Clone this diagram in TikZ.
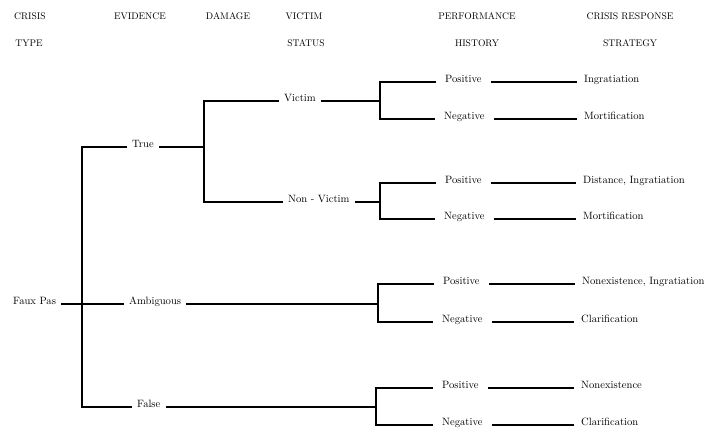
\documentclass[tikz,border=0pt]{standalone}
\begin{document}
\begin{tikzpicture}[x=1pt,y=-1pt,
 hdr/.style={font=\fontsize{9.6}{11}\selectfont, inner sep=0pt, anchor=base},
 lbl/.style={font=\fontsize{10.6}{12}\selectfont, inner ysep=0pt, inner xsep=5pt, anchor=base west, xshift=-5pt},
 perf/.style={font=\fontsize{10.6}{12}\selectfont, inner ysep=0pt, inner xsep=9pt, anchor=base west, xshift=-9pt},
 strat/.style={font=\fontsize{10.6}{12}\selectfont, inner ysep=0pt, inner xsep=7pt, anchor=base west, xshift=-7pt},
 ln/.style={line width=1.1pt}]
\useasboundingbox (0,0) rectangle (704,432);
% headers
\node[hdr] (h1a) at (30,19) {CRISIS};
\node[hdr] (h1b) at (29,46) {TYPE};
\node[hdr] (h2) at (140,19) {EVIDENCE};
\node[hdr] (h3) at (228,19) {DAMAGE};
\node[hdr] (h4a) at (304,19) {VICTIM};
\node[hdr] (h4b) at (306,46) {STATUS};
\node[hdr] (h5a) at (477,19) {PERFORMANCE};
\node[hdr] (h5b) at (477,46) {HISTORY};
\node[hdr] (h6a) at (630,19) {CRISIS RESPONSE};
\node[hdr] (h6b) at (630,46) {STRATEGY};
% tree labels
\node[lbl] (faux) at (13,304) {Faux Pas};
\node[lbl] (true) at (132,147) {True};
\node[lbl] (amb) at (129,304) {Ambiguous};
\node[lbl] (false) at (137,407) {False};
\node[lbl] (vic) at (284,101) {Victim};
\node[lbl] (nvic) at (288,202) {Non - Victim};
% performance history
\node[perf] (p1) at (445,82) {Positive};
\node[perf] (n1) at (444,119) {Negative};
\node[perf] (p2) at (445,183) {Positive};
\node[perf] (n2) at (444,219) {Negative};
\node[perf] (p3) at (443,284) {Positive};
\node[perf] (n3) at (442,322) {Negative};
\node[perf] (p4) at (442,388) {Positive};
\node[perf] (n4) at (442,425) {Negative};
% strategies
\node[strat] (s1) at (584,82) {Ingratiation};
\node[strat] (s2) at (584,119) {Mortification};
\node[strat] (s3) at (583,183) {Distance, Ingratiation};
\node[strat] (s4) at (583,219) {Mortification};
\node[strat] (s5) at (582,284) {Nonexistence, Ingratiation};
\node[strat] (s6) at (581,322) {Clarification};
\node[strat] (s7) at (581,388) {Nonexistence};
\node[strat] (s8) at (581,425) {Clarification};
% branch coordinates
\coordinate (st) at (82,147);
\coordinate (sb) at (82,407);
\coordinate (dt) at (204,101);
\coordinate (db) at (204,202);
\coordinate (g1t) at (380,82);  \coordinate (g1b) at (380,119);
\coordinate (g2t) at (380,183); \coordinate (g2b) at (380,219);
\coordinate (g3t) at (378,284); \coordinate (g3b) at (378,322);
\coordinate (g4t) at (376,388); \coordinate (g4b) at (376,425);
% connectors
\draw[ln] (faux.base east) -- (amb.base west);
\draw[ln] (true.base west) -- (st) -- (sb) -- (false.base west);
\draw[ln] (true.base east) -- (true.base east -| dt);
\draw[ln] (vic.base west) -- (dt) -- (db) -- (nvic.base west);
\draw[ln] (vic.base east) -- (vic.base east -| g1t);
\draw[ln] (nvic.base east) -- (nvic.base east -| g2t);
\draw[ln] (amb.base east) -- (amb.base east -| g3t);
\draw[ln] (false.base east) -- (false.base east -| g4t);
\draw[ln] (p1.base west) -- (g1t) -- (g1b) -- (n1.base west);
\draw[ln] (p2.base west) -- (g2t) -- (g2b) -- (n2.base west);
\draw[ln] (p3.base west) -- (g3t) -- (g3b) -- (n3.base west);
\draw[ln] (p4.base west) -- (g4t) -- (g4b) -- (n4.base west);
\draw[ln] (p1.base east) -- (s1.base west);
\draw[ln] (n1.base east) -- (s2.base west);
\draw[ln] (p2.base east) -- (s3.base west);
\draw[ln] (n2.base east) -- (s4.base west);
\draw[ln] (p3.base east) -- (s5.base west);
\draw[ln] (n3.base east) -- (s6.base west);
\draw[ln] (p4.base east) -- (s7.base west);
\draw[ln] (n4.base east) -- (s8.base west);
\end{tikzpicture}
\end{document}
